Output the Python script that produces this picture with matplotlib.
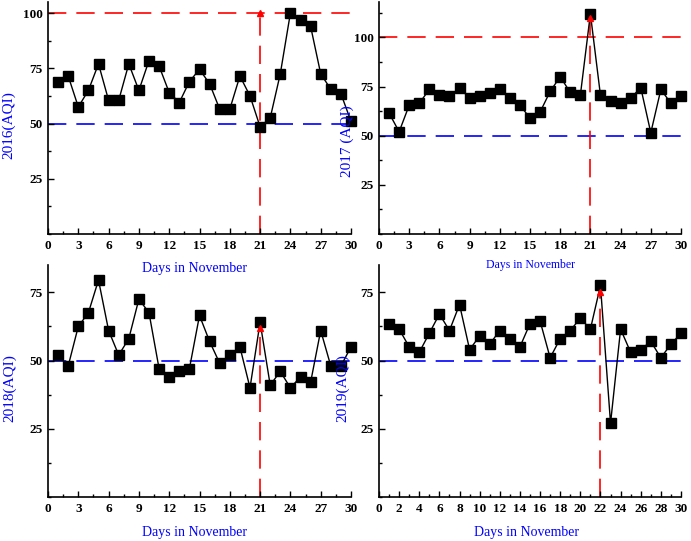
import numpy as np
import matplotlib
matplotlib.use("Agg")
import matplotlib.pyplot as plt
from matplotlib.ticker import MultipleLocator

plt.rcParams['font.family'] = ['Liberation Serif', 'DejaVu Serif']

# ============== data ==============
days = list(range(1, 31))

aqi_2016 = [69, 71.5, 57.5, 65, 77, 60.5, 60.5, 77, 65, 78.5,
            76, 64, 59.5, 69, 74.5, 68, 56.5, 56.5, 71.5, 62.5,
            48.5, 52.5, 72.5, 100, 97, 94, 72.5, 65.5, 63.5, 51]
aqi_2017 = [61.5, 52, 65.5, 66.5, 73.5, 70.5, 70, 74.5, 69, 70,
            71.5, 73.5, 69, 65.5, 59, 62, 72.5, 80, 72, 70.5,
            112, 70.5, 67.5, 66.5, 69, 74.5, 51.5, 73.5, 66.5, 70]
aqi_2018 = [52, 48, 62.5, 67.5, 79.5, 61, 52, 58, 72.5, 67.5,
            47, 44, 46, 47, 66.5, 57, 49, 52, 55, 40,
            64, 41, 46, 40, 44, 42, 61, 48, 48, 55]
aqi_2019 = [63.5, 61.5, 55, 53, 60, 67, 61, 70.5, 54, 59,
            56, 61, 58, 55, 63.5, 64.5, 51, 58, 61, 65.5,
            61.5, 77.5, 27, 61.5, 53, 54, 57, 51, 56, 60]

years = ['2016', '2017', '2018', '2019']
series = [aqi_2016, aqi_2017, aqi_2018, aqi_2019]
peak_day = [21, 21, 21, 22]
arrow_top = [101, 111, 63, 76]
show_100 = [True, True, False, False]
ylims = [105, 118, 85, 85]
yticks = [[25, 50, 75, 100], [25, 50, 75, 100], [25, 50, 75], [25, 50, 75]]
xstep = [3, 3, 3, 2]

# ============== layout ==============
W, H = 691, 541
boxes = [(48, 2, 351, 234), (379, 2, 681, 234),
         (48, 265, 351, 497), (379, 265, 681, 497)]
ylab_pos = [(-0.13, 0.47), (-0.105, 0.40), (-0.125, 0.47), (-0.12, 0.47)]
xlab_pos = [(0.485, -0.148), (0.50, -0.135), (0.485, -0.152), (0.49, -0.152)]
xlab_size = [10, 8.5, 10, 10]
ylab_label = ['2016(AQI)', '2017 (AQI)', '2018(AQI)', '2019(AQI)']

fig = plt.figure(figsize=(W / 100, H / 100), dpi=100)

red = '#ff0000'
blue = '#0000ff'
dash = (11, 6)

for i in range(4):
    x0, y0, x1, y1 = boxes[i]
    ax = fig.add_axes([x0 / W, 1 - y1 / H, (x1 - x0) / W, (y1 - y0) / H])
    ax.patch.set_visible(False)

    # reference lines
    ax.plot([0, 30], [50, 50], color=blue, lw=1.2, dashes=dash, zorder=1)
    if show_100[i]:
        ax.plot([0, 30], [100, 100], color=red, lw=1.2, dashes=dash, zorder=1)
    ax.plot([peak_day[i], peak_day[i]], [0, arrow_top[i] - 2], color=red,
            lw=1.2, dashes=dash, zorder=1)
    ax.plot(peak_day[i], arrow_top[i] - 1, marker='^', color=red,
            markersize=5, zorder=4, clip_on=False)

    # data
    ax.plot(days, series[i], color='black', lw=1, marker='s', markersize=6.5,
            markerfacecolor='black', zorder=3, clip_on=False)

    ax.set_xlim(0, 30)
    ax.set_ylim(0, ylims[i])
    ax.set_xticks(np.arange(0, 31, xstep[i]))
    ax.xaxis.set_minor_locator(MultipleLocator(xstep[i] / 2))
    ax.set_yticks(yticks[i])
    ax.yaxis.set_minor_locator(MultipleLocator(12.5))

    for s in ['top', 'right']:
        ax.spines[s].set_visible(False)
    for s in ['left', 'bottom']:
        ax.spines[s].set_linewidth(1.2)

    ax.tick_params(which='major', direction='in', length=4, width=1,
                   labelsize=9.5, pad=4)
    ax.tick_params(which='minor', direction='in', length=2.5, width=1)
    for lab in ax.get_xticklabels() + ax.get_yticklabels():
        lab.set_fontweight('bold')

    ax.set_xlabel('Days in November', color=blue, fontsize=xlab_size[i],
                  va='center')
    ax.xaxis.set_label_coords(*xlab_pos[i])
    ax.set_ylabel(ylab_label[i], color=blue, fontsize=11, va='center')
    ax.yaxis.set_label_coords(*ylab_pos[i])

plt.savefig('out.png', dpi=100)
